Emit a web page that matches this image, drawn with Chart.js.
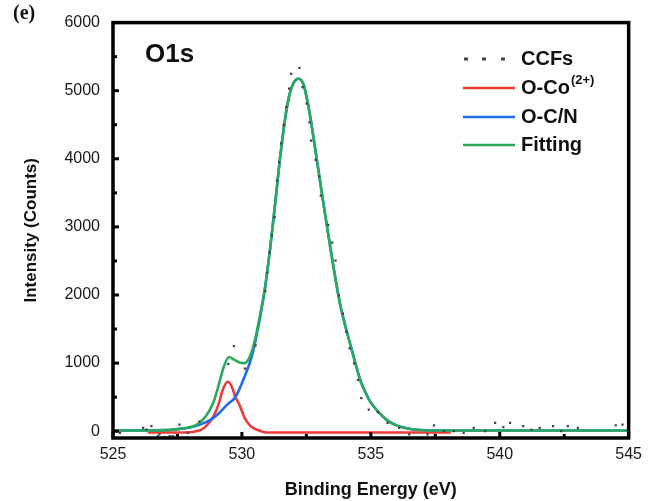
<!DOCTYPE html>
<html lang="en">
<head>
  <meta charset="UTF-8">
  <title>O1s XPS</title>
  <script src="https://cdn.jsdelivr.net/npm/chart.js"></script>
  <style>
    body { margin: 0; background: #fff; }
    #wrap { width: 649px; height: 501px; }
  </style>
</head>
<body>
  <div id="wrap"><canvas id="myChart" width="649" height="501"></canvas></div>
  <script>
    // tick labels
    const xTicks = [525, 530, 535, 540, 545];
    const yTicks = [0, 1000, 2000, 3000, 4000, 5000, 6000];

    // raw spectrum (CCFs), binding energy / counts
    const ccfX = [525.14, 525.27, 526.17, 526.3, 526.49, 526.74, 526.8, 527.0, 527.2, 527.32,
      527.58, 527.9, 528.35, 529.47, 529.69, 530.12, 530.53, 530.91, 530.97, 531.08,
      531.17, 531.27, 531.36, 531.45, 531.53, 531.62, 531.72, 531.83, 531.91, 532.23,
      532.35, 532.51, 532.62, 532.68, 532.86, 532.99, 533.06, 533.35, 533.5, 533.63,
      533.76, 533.92, 534.05, 534.18, 534.35, 534.5, 534.63, 534.92, 535.27, 535.65,
      536.1, 536.49, 537.2, 537.45, 537.83, 538.22, 538.6, 538.99, 539.43, 539.82,
      540.14, 540.4, 540.91, 541.23, 541.55, 542.07, 542.38, 542.64, 543.03, 544.5, 544.76];
    const ccfY = [0, -24, 48, 24, 73, -73, -48, -87, -73, -73,
      97, -24, 140, 990, 1250, 920, 1260, 2060, 2330, 2624,
      2876, 3144, 3678, 3950, 4227, 4494, 4762, 5029, 5248, 5335,
      5054, 4810, 4534, 4267, 3984, 3742, 3459, 3028, 2770, 2503,
      1993, 1725, 1458, 1215, 996, 754, 486, 316, 281, 121,
      48, -48, -48, 87, 0, 0, -24, 48, 0, 121,
      58, 121, 73, 24, 48, 73, 0, 73, 48, 87, 97];

    // O-Co(2+) component
    const coX = [526.35, 528.0, 528.3, 528.5, 528.7, 528.9, 529.1, 529.25, 529.45, 529.6,
      529.75, 529.9, 530.1, 530.3, 530.45, 530.7, 531.0, 538.1];
    const coY = [-20, -15, 5, 40, 110, 220, 400, 600, 725, 660,
      500, 390, 200, 90, 45, 5, -20, -20];

    // O-C/N component
    const cnX = [525.0, 527.0, 527.5, 528.0, 528.4, 528.8, 529.1, 529.4, 529.76, 530.1,
      530.4, 530.7, 530.9, 531.1, 531.3, 531.5, 531.7, 531.85, 532.0, 532.2,
      532.4, 532.55, 532.7, 532.86, 533.0, 533.2, 533.4, 533.6, 533.8, 534.0,
      534.2, 534.4, 534.6, 534.8, 535.0, 535.3, 535.6, 535.9, 536.3, 536.8, 537.5, 545.0];
    const cnY = [10, 15, 30, 55, 100, 170, 260, 380, 510, 800,
      1120, 1660, 2110, 2700, 3380, 4080, 4650, 4950, 5110, 5175,
      5080, 4830, 4500, 4100, 3750, 3250, 2770, 2300, 1880, 1560,
      1280, 1000, 740, 560, 420, 280, 170, 100, 50, 20, 10, 10];

    // total fitting envelope
    const fitX = [525.0, 526.0, 527.0, 527.5, 528.0, 528.3, 528.6, 528.9, 529.1, 529.3,
      529.5, 529.7, 529.9, 530.1, 530.3, 530.5, 530.7, 530.9, 531.1, 531.3,
      531.5, 531.7, 531.85, 532.0, 532.2, 532.4, 532.55, 532.7, 532.86, 533.0,
      533.2, 533.4, 533.6, 533.8, 534.0, 534.2, 534.4, 534.6, 534.8, 535.0,
      535.3, 535.6, 535.9, 536.3, 536.8, 537.5, 545.0];
    const fitY = [10, 10, 15, 30, 60, 110, 220, 430, 680, 950,
      1090, 1050, 1010, 1000, 1090, 1330, 1700, 2120, 2700, 3380,
      4080, 4650, 4950, 5110, 5175, 5080, 4830, 4500, 4100, 3750,
      3250, 2770, 2300, 1880, 1560, 1280, 1000, 740, 560, 420,
      280, 170, 100, 50, 20, 10, 10];

    const FONT = "'Liberation Sans', Arial, sans-serif";
    const pts = (xs, ys) => xs.map((x, i) => ({ x: x, y: ys[i] }));

    const red = 'rgb(238, 58, 58)';
    const blue = 'rgb(32, 108, 230)';
    const green = 'rgb(44, 170, 92)';

    // frame, inward ticks, labels and legend
    const decor = {
      id: 'decor',
      afterDatasetsDraw(chart) {
        const ctx = chart.ctx;
        const a = chart.chartArea;
        const xs = chart.scales.x, ys = chart.scales.y;
        ctx.save();
        ctx.fillStyle = '#000';
        for (let i = 0; i < xTicks.length; i++) {
          const px = xs.getPixelForValue(xTicks[i]);
          ctx.fillRect(px - 1.5, a.bottom - 6, 3, 6);
          if (i < xTicks.length - 1) {
            const pm = xs.getPixelForValue((xTicks[i] + xTicks[i + 1]) / 2);
            ctx.fillRect(pm - 1.5, a.bottom - 4, 3, 4);
          }
        }
        for (let i = 0; i < yTicks.length; i++) {
          const py = ys.getPixelForValue(yTicks[i]);
          ctx.fillRect(a.left, py - 1.5, 6, 3);
          if (i < yTicks.length - 1) {
            const pm = ys.getPixelForValue((yTicks[i] + yTicks[i + 1]) / 2);
            ctx.fillRect(a.left, pm - 1.5, 4, 3);
          }
        }
        ctx.lineWidth = 3.5;
        ctx.strokeStyle = '#000';
        ctx.strokeRect(a.left, a.top, a.right - a.left, a.bottom - a.top);

        ctx.fillStyle = '#111';
        ctx.textBaseline = 'middle';
        ctx.textAlign = 'left';
        ctx.font = 'bold 26px ' + FONT;
        ctx.fillText('O1s', 145, 55);
        ctx.font = "bold 20px 'Liberation Serif', 'Times New Roman', serif";
        ctx.fillText('(e)', 13, 14);

        // legend
        const lx0 = 463, lx1 = 515, tx = 521;
        const rows = [59, 88, 117, 145];
        ctx.fillStyle = '#444';
        [466, 484, 503].forEach(d => ctx.fillRect(d - 2, rows[0] - 1.5, 4, 3));
        [[red, rows[1]], [blue, rows[2]], [green, rows[3]]].forEach(r => {
          ctx.strokeStyle = r[0];
          ctx.lineWidth = 2.5;
          ctx.beginPath();
          ctx.moveTo(lx0, r[1]);
          ctx.lineTo(lx1, r[1]);
          ctx.stroke();
        });
        ctx.fillStyle = '#111';
        ctx.font = 'bold 20px ' + FONT;
        ctx.fillText('CCFs', tx, rows[0]);
        ctx.fillText('O-Co', tx, rows[1]);
        const w = ctx.measureText('O-Co').width;
        ctx.font = 'bold 13px ' + FONT;
        ctx.fillText('(2+)', tx + w + 1, rows[1] - 8);
        ctx.font = 'bold 20px ' + FONT;
        ctx.fillText('O-C/N', tx, rows[2]);
        ctx.fillText('Fitting', tx, rows[3]);
        ctx.restore();
      }
    };

    const ctx = document.getElementById('myChart').getContext('2d');
    const myChart = new Chart(ctx, {
      type: 'line',
      data: {
        datasets: [
          {
            label: 'CCFs',
            data: pts(ccfX, ccfY),
            showLine: false,
            pointStyle: 'rect',
            pointRadius: 1.6,
            pointBackgroundColor: '#444',
            pointBorderWidth: 0,
            order: 0
          },
          {
            label: 'Fitting',
            data: pts(fitX, fitY),
            borderColor: green,
            borderWidth: 2.6,
            pointRadius: 0,
            cubicInterpolationMode: 'monotone',
            order: 1
          },
          {
            label: 'O-C/N',
            data: pts(cnX, cnY),
            borderColor: blue,
            borderWidth: 2.6,
            pointRadius: 0,
            cubicInterpolationMode: 'monotone',
            order: 2
          },
          {
            label: 'O-Co(2+)',
            data: pts(coX, coY),
            borderColor: red,
            borderWidth: 2.6,
            pointRadius: 0,
            cubicInterpolationMode: 'monotone',
            order: 3
          }
        ]
      },
      options: {
        responsive: false,
        animation: false,
        layout: { padding: { left: 0, top: 20, right: 16, bottom: 0 } },
        plugins: {
          legend: { display: false },
          tooltip: { enabled: false }
        },
        scales: {
          x: {
            type: 'linear',
            min: 525,
            max: 545,
            grid: { display: false, drawTicks: false },
            border: { display: false },
            afterBuildTicks: s => { s.ticks = xTicks.map(v => ({ value: v })); },
            afterFit: s => { s.height = 63; },
            ticks: {
              padding: 7,
              color: '#1a1a1a',
              font: { family: FONT, size: 16 },
              callback: v => String(v)
            },
            title: {
              display: true,
              text: 'Binding Energy (eV)',
              color: '#111',
              padding: { top: 2, bottom: 0 },
              font: { family: FONT, size: 18, weight: 'bold' }
            }
          },
          y: {
            type: 'linear',
            min: -100,
            max: 6000,
            grid: { display: false, drawTicks: false },
            border: { display: false },
            afterBuildTicks: s => { s.ticks = yTicks.map(v => ({ value: v })); },
            afterFit: s => { s.width = 113; },
            ticks: {
              padding: 13,
              color: '#1a1a1a',
              font: { family: FONT, size: 16 },
              callback: v => String(v)
            },
            title: {
              display: true,
              text: 'Intensity (Counts)',
              color: '#111',
              padding: { top: 21, bottom: 0 },
              font: { family: FONT, size: 17, weight: 'bold' }
            }
          }
        }
      },
      plugins: [decor]
    });
  </script>
</body>
</html>
